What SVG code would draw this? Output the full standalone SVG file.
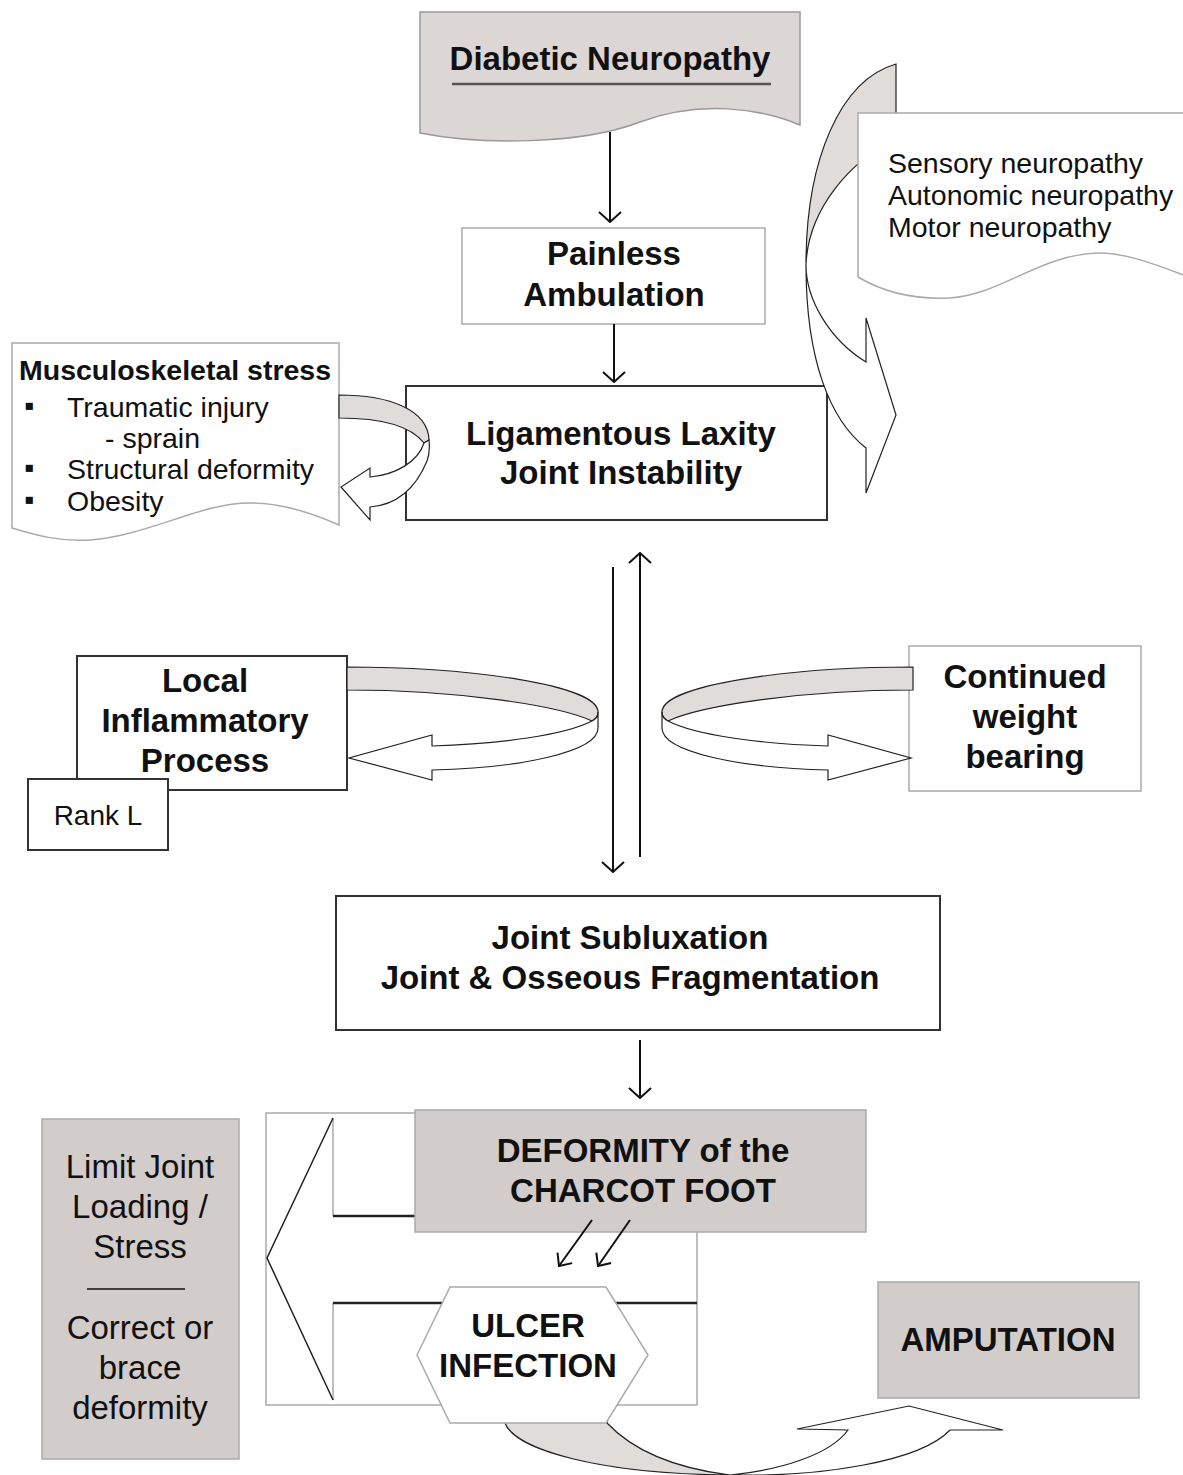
<svg xmlns="http://www.w3.org/2000/svg" width="1183" height="1475" viewBox="0 0 1183 1475">
<style>
text{font-family:"Liberation Sans",Arial,sans-serif;fill:#111}
.b{font-weight:bold;font-size:33px;text-anchor:middle}
.n{font-size:33px;text-anchor:middle}
.s{font-size:28.5px}
.dark{fill:#fff;stroke:#333;stroke-width:2}
.light{fill:#fff;stroke:#aaa;stroke-width:1.5}
.gbox{fill:#d2cccb;stroke:#aaa;stroke-width:1.5}
.rib{fill:#e0dcda;stroke:#222;stroke-width:1.2}
.ribw{fill:#fff;stroke:#222;stroke-width:1.2}
.con{fill:none;stroke:#111;stroke-width:2}
</style>
<defs>
<marker id="ah" viewBox="0 0 12 24" refX="11" refY="12" markerWidth="12" markerHeight="24" markerUnits="userSpaceOnUse" orient="auto">
<path d="M1,1 L11,12 L1,23" fill="none" stroke="#111" stroke-width="2"/>
</marker>
<marker id="ah2" viewBox="0 0 12 20" refX="11" refY="10" markerWidth="12" markerHeight="20" markerUnits="userSpaceOnUse" orient="auto">
<path d="M1,1 L11,10 L1,19" fill="none" stroke="#111" stroke-width="2"/>
</marker>
</defs>

<!-- big right curved arrow, gray back face (behind sensory box) -->
<g id="curve-right-back">
<path class="rib" d="M896,64 C 840,80 806,160 806,265 C 808,210 850,160 896,140 Z"/>
</g>

<g id="diabetic">
<path d="M420,12 H800 V125 C 760,108 700,100 640,122 C 580,145 480,145 420,133 Z" fill="#dcd6d4" stroke="#999" stroke-width="1.5"/>
<text class="b" x="610" y="70">Diabetic Neuropathy</text>
<line x1="452" y1="84" x2="771" y2="84" stroke="#555" stroke-width="2.5"/>
</g>

<g id="sensory">
<path d="M858,113 H1186 V276 C 1150,262 1120,252 1097,253 C 1040,255 1000,295 950,298 C 910,300 880,290 858,277 Z" class="light"/>
<text class="s" x="888" y="173">Sensory neuropathy</text>
<text class="s" x="888" y="205">Autonomic neuropathy</text>
<text class="s" x="888" y="237">Motor neuropathy</text>
</g>

<g id="painless">
<rect x="462" y="228" width="303" height="96" class="light"/>
<text class="b" x="614" y="265">Painless</text>
<text class="b" x="614" y="306">Ambulation</text>
</g>

<g id="musculo">
<path d="M12,343 H339 V525 C 310,512 280,503 250,503 C 200,503 150,535 90,540 C 60,542 35,535 12,528 Z" class="light"/>
<text class="s" x="19" y="380" font-weight="bold">Musculoskeletal stress</text>
<text class="s" x="24" y="415">▪</text>
<text class="s" x="67" y="417">Traumatic injury</text>
<text class="s" x="105" y="448">- sprain</text>
<text class="s" x="24" y="477">▪</text>
<text class="s" x="67" y="479">Structural deformity</text>
<text class="s" x="24" y="509">▪</text>
<text class="s" x="67" y="511">Obesity</text>
</g>

<g id="ligamentous">
<rect x="406" y="386" width="421" height="134" class="dark"/>
<text class="b" x="621" y="445">Ligamentous Laxity</text>
<text class="b" x="621" y="484">Joint Instability</text>
</g>

<!-- big right curved arrow, white front face -->
<g id="curve-right-front">
<path class="ribw" d="M806,265 C 806,300 830,340 866,362 L866,318 L896,415 L866,493 L866,448 C 830,420 806,360 806,265 Z"/>
</g>

<g id="loop-musculo">
<path class="rib" d="M339,395 C 390,395 428,410 429,440 L424,443 C 410,425 380,418 339,418 Z"/>
<path class="ribw" d="M424,443 L429,440 C 430,450 429,456 427,461 C 415,490 395,505 370,507 L370,520 L341,487 L370,468 L370,477 C 395,475 418,462 424,443 Z"/>
</g>

<g id="local">
<rect x="77" y="656" width="270" height="134" class="dark"/>
<text class="b" x="205" y="692">Local</text>
<text class="b" x="205" y="732">Inflammatory</text>
<text class="b" x="205" y="772">Process</text>
</g>

<g id="rankl">
<rect x="28" y="779" width="140" height="71" class="dark"/>
<text x="98" y="825" font-size="28" text-anchor="middle">Rank L</text>
</g>

<g id="loop-local">
<path class="rib" d="M347,667 C 470,667 598,685 598,712 C 598,716 596,719 592,721 C 560,706 460,690 347,690 Z"/>
<path class="ribw" d="M592,721 C 596,719 598,716 598,712 L598,728 C 598,752 520,768 432,770 L432,780 L349,758 L432,735 L432,746 C 500,744 565,735 592,721 Z"/>
</g>

<g id="continued">
<rect x="909" y="646" width="232" height="145" class="light"/>
<text class="b" x="1025" y="688">Continued</text>
<text class="b" x="1025" y="728">weight</text>
<text class="b" x="1025" y="768">bearing</text>
</g>

<g id="loop-continued" transform="matrix(-1,0,0,1,1260,0)">
<path class="rib" d="M347,667 C 470,667 598,685 598,712 C 598,716 596,719 592,721 C 560,706 460,690 347,690 Z"/>
<path class="ribw" d="M592,721 C 596,719 598,716 598,712 L598,728 C 598,752 520,768 432,770 L432,780 L349,758 L432,735 L432,746 C 500,744 565,735 592,721 Z"/>
</g>

<g id="subluxation">
<rect x="336" y="896" width="604" height="134" class="dark"/>
<text class="b" x="630" y="949">Joint Subluxation</text>
<text class="b" x="630" y="989">Joint &amp; Osseous Fragmentation</text>
</g>

<g id="left-arrow-frame">
<rect x="266" y="1113" width="431" height="292" class="light"/>
<polyline points="333,1216 333,1118" fill="none" stroke="#aaa" stroke-width="1.5"/>
<polyline points="333,1400 333,1303" fill="none" stroke="#aaa" stroke-width="1.5"/>
<polyline points="333,1118 267,1258 333,1400" fill="none" stroke="#222" stroke-width="1.5"/>
<line x1="333" y1="1216" x2="415" y2="1216" stroke="#222" stroke-width="2.5"/>
<line x1="333" y1="1303" x2="697" y2="1303" stroke="#222" stroke-width="2.5"/>
</g>

<g id="deformity">
<rect x="415" y="1110" width="451" height="122" class="gbox"/>
<text class="b" x="643" y="1162">DEFORMITY of the</text>
<text class="b" x="643" y="1202">CHARCOT FOOT</text>
</g>

<g id="ribbon-bottom">
<path class="rib" d="M505,1418 L505,1423 C 515,1450 600,1474 730,1475 C 690,1470 640,1458 607,1423 L607,1418 Z"/>
<path class="ribw" d="M730,1475 C 780,1470 830,1455 848,1430 L797,1429 L909,1406 L1003,1430 L950,1430 C 920,1462 820,1477 730,1475 Z"/>
</g>

<g id="ulcer">
<polygon points="417,1355 450,1287 606,1287 648,1355 606,1423 450,1423" class="light"/>
<text class="b" x="528" y="1337">ULCER</text>
<text class="b" x="528" y="1377">INFECTION</text>
</g>

<g id="amputation">
<rect x="878" y="1282" width="261" height="116" class="gbox"/>
<text class="b" x="1008" y="1351">AMPUTATION</text>
</g>

<g id="limit">
<rect x="42" y="1119" width="197" height="340" class="gbox"/>
<text class="n" x="140" y="1178">Limit Joint</text>
<text class="n" x="140" y="1218">Loading /</text>
<text class="n" x="140" y="1258">Stress</text>
<line x1="87" y1="1289" x2="185" y2="1289" stroke="#111" stroke-width="1.5"/>
<text class="n" x="140" y="1339">Correct or</text>
<text class="n" x="140" y="1379">brace</text>
<text class="n" x="140" y="1419">deformity</text>
</g>

<g id="connectors">
<line class="con" x1="610" y1="132" x2="610" y2="222" marker-end="url(#ah)"/>
<line class="con" x1="614" y1="324" x2="614" y2="382" marker-end="url(#ah)"/>
<line class="con" x1="613" y1="567" x2="613" y2="872" marker-end="url(#ah)"/>
<line class="con" x1="640" y1="857" x2="640" y2="553" marker-end="url(#ah)"/>
<line class="con" x1="640" y1="1040" x2="640" y2="1098" marker-end="url(#ah)"/>
<line class="con" x1="592" y1="1220" x2="559" y2="1266" marker-end="url(#ah2)"/>
<line class="con" x1="630" y1="1220" x2="598" y2="1266" marker-end="url(#ah2)"/>
</g>
</svg>
